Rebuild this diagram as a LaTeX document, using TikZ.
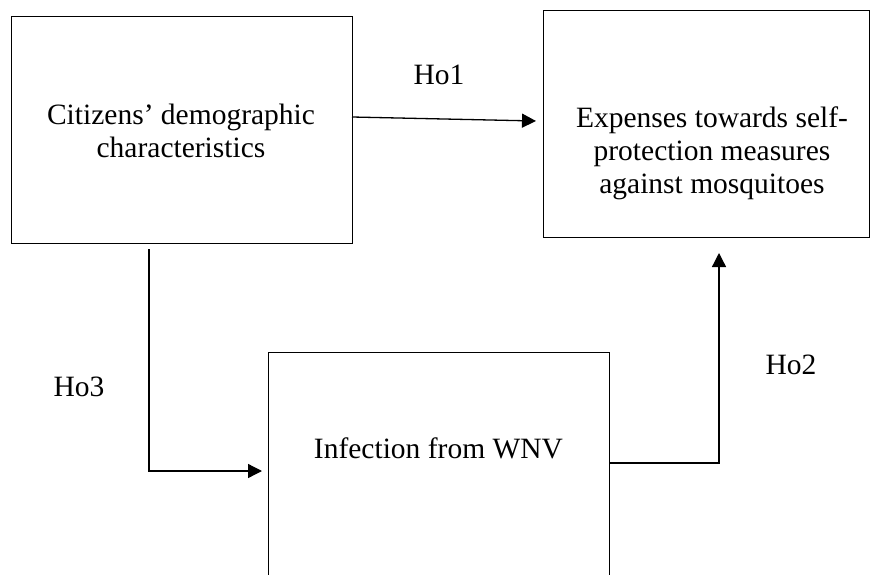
\documentclass[tikz,border=0pt]{standalone}
\usepackage{fontspec}
\setmainfont{Liberation Serif}
\usetikzlibrary{arrows.meta}
\begin{document}
\begin{tikzpicture}[x=1pt,y=-1pt,
  box/.style={draw, line width=1.3pt, inner sep=0pt, anchor=north west},
  lbl/.style={font=\fontsize{29.5}{33}\selectfont, align=center, inner sep=0pt},
  arr/.style={line width=1.3pt, -{Triangle[length=14pt,width=14pt]}},
  conn/.style={line width=1.3pt}]
\useasboundingbox (0,0) rectangle (870,575);
\clip (0,0) rectangle (870,575);
\node[box, minimum width=341pt, minimum height=227pt] (b1) at (11,16) {};
\node[lbl] (t1) at (181,131) {Citizens’ demographic\\characteristics};
\node[box, minimum width=326pt, minimum height=227pt] (b2) at (543,10) {};
\node[lbl] (t2) at (712,153) {Expenses towards self-\\protection measures\\against mosquitoes};
\node[box, minimum width=341pt, minimum height=260pt] (b3) at (268,352) {};
\node[lbl] (t3) at (438.5,448) {Infection from WNV};
\node[lbl] (ho1) at (439,75) {Ho1};
\node[lbl] (ho2) at (791,365) {Ho2};
\node[lbl] (ho3) at (79,387) {Ho3};
\coordinate (h1a) at (352,117);
\coordinate (h1b) at (536,121);
\draw[arr] (h1a) -- (h1b);
\coordinate (h3a) at (149,249);
\coordinate (h3c) at (149,471);
\coordinate (h3b) at (262,471);
\draw[arr] (h3a) -- (h3c) -- (h3b);
\coordinate (h2a) at (609,463);
\coordinate (h2c) at (719,463);
\coordinate (h2b) at (719,253);
\draw[arr] (h2a) -- (h2c) -- (h2b);
\end{tikzpicture}
\end{document}
